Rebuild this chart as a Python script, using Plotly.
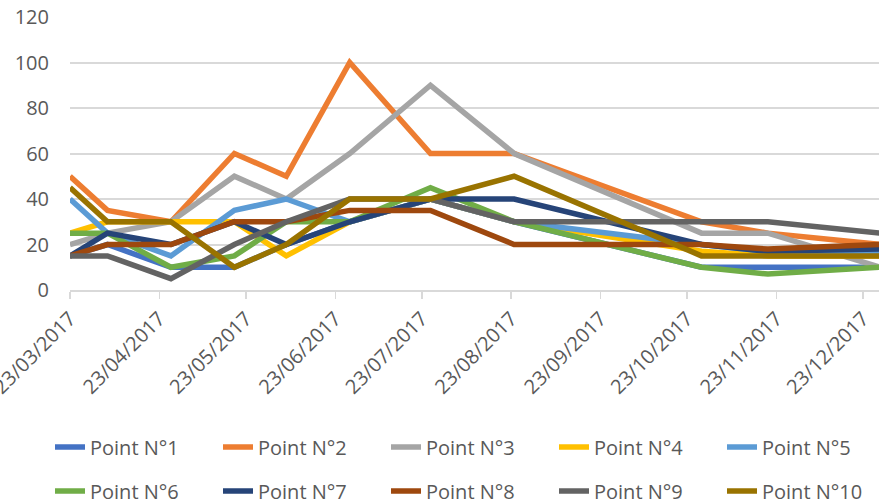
import plotly.graph_objects as go

dates = ["2017-03-23", "2017-04-05", "2017-04-27", "2017-05-19", "2017-06-06",
         "2017-06-28", "2017-07-26", "2017-08-24", "2017-10-28", "2017-11-20",
         "2017-12-29"]

series_names = ["Point N°1", "Point N°2", "Point N°3", "Point N°4", "Point N°5",
                "Point N°6", "Point N°7", "Point N°8", "Point N°9", "Point N°10"]

p1 = [15, 20, 10, 10, 20, 30, 40, 30, 10, 10, 10]
p2 = [50, 35, 30, 60, 50, 100, 60, 60, 30, 25, 20]
p3 = [20, 25, 30, 50, 40, 60, 90, 60, 25, 25, 10]
p4 = [25, 30, 30, 30, 15, 30, 40, 30, 17, 15, 15]
p5 = [40, 25, 15, 35, 40, 30, 40, 30, 20, 17, 17]
p6 = [25, 25, 10, 15, 30, 30, 45, 30, 10, 7, 10]
p7 = [15, 25, 20, 30, 20, 30, 40, 40, 20, 17, 18]
p8 = [15, 20, 20, 30, 30, 35, 35, 20, 20, 18, 20]
p9 = [15, 15, 5, 20, 30, 40, 40, 30, 30, 30, 25]
p10 = [45, 30, 30, 10, 20, 40, 40, 50, 15, 15, 15]

values = [p1, p2, p3, p4, p5, p6, p7, p8, p9, p10]

colors = ["#4472C4", "#ED7D31", "#A5A5A5", "#FFC000", "#5B9BD5",
          "#70AD47", "#264478", "#9E480E", "#636363", "#997300"]

FONT = "Open Sans"
TXT = "#595959"
GRID = "#D9D9D9"

fig = go.Figure()
for i, (name, vals, col) in enumerate(zip(series_names, values, colors)):
    fig.add_trace(go.Scatter(
        x=dates, y=vals, name=name, mode="lines",
        line=dict(color=col, width=5.5),
        legend="legend" if i < 5 else "legend2",
        hoverinfo="skip",
    ))

W, H = 879, 504
L, R, T, B = 70, 0, 17, 214
pw = W - L - R
ph = H - T - B

def py(ypix):
    return (H - B - ypix) / ph

def px(xpix):
    return (xpix - L) / pw

legend_common = dict(
    orientation="h", xanchor="left", yanchor="middle",
    font=dict(family=FONT, size=20, color=TXT),
    bgcolor="rgba(0,0,0,0)", entrywidth=123, entrywidthmode="pixels",
    itemclick=False, itemdoubleclick=False, traceorder="normal",
)

fig.update_layout(
    width=W, height=H,
    margin=dict(l=L, r=R, t=T, b=B, autoexpand=False),
    paper_bgcolor="white", plot_bgcolor="white",
    font=dict(family=FONT, size=20, color=TXT),
    showlegend=True,
    legend=dict(x=px(50), y=py(447), **legend_common),
    legend2=dict(x=px(50), y=py(491), **legend_common),
    xaxis=dict(
        type="date",
        range=["2017-03-23", "2017-12-28 13:00"],
        tick0="2017-03-23", dtick="M1", tickformat="%d/%m/%Y",
        tickangle=-45, ticks="outside", ticklen=7, tickwidth=1.5,
        tickcolor=GRID, showline=True, linecolor=GRID, linewidth=2,
        showgrid=False, zeroline=False, automargin=False,
        ticklabeloverflow="allow",
        tickfont=dict(family=FONT, size=20, color=TXT),
    ),
    yaxis=dict(
        range=[0, 120], dtick=20, tick0=0,
        showgrid=True, gridcolor=GRID, gridwidth=2,
        zeroline=False, showline=False, ticks="",
        ticklabelstandoff=20, automargin=False,
        tickfont=dict(family=FONT, size=20, color=TXT),
    ),
)

fig.write_html(
    "out.html",
    config={"displayModeBar": False, "staticPlot": True},
    post_script="document.body.style.margin='0';document.body.style.overflow='hidden';",
)
